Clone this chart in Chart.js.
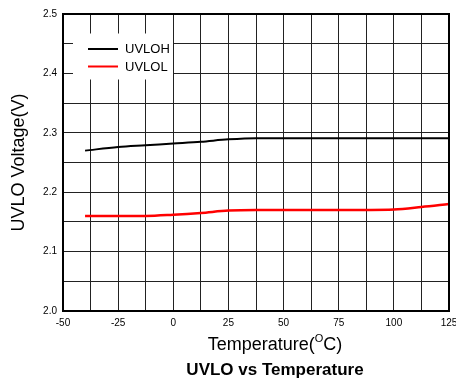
<!DOCTYPE html>
<html>
<head>
<meta charset="utf-8">
<script src="https://cdn.jsdelivr.net/npm/chart.js@4/dist/chart.umd.min.js"></script>
<style>
  html, body { margin: 0; padding: 0; background: #fff; }
  #wrap { width: 456px; height: 383px; }
</style>
</head>
<body>
<div id="wrap"><canvas id="c"></canvas></div>
<script>
// Measured UVLO thresholds versus junction temperature
const temperatures = [-40, -25, -12.5, 0, 12.5, 25, 37.5, 50, 75, 100, 112.5, 125];
const uvlohVolts   = [2.270, 2.276, 2.279, 2.282, 2.285, 2.289, 2.291, 2.291, 2.291, 2.291, 2.291, 2.291];
const uvlolVolts   = [2.160, 2.160, 2.160, 2.162, 2.165, 2.169, 2.170, 2.170, 2.170, 2.171, 2.175, 2.180];
const seriesNames  = ['UVLOH', 'UVLOL'];
const seriesColors = ['#000000', '#ff0000'];

// Labelled ticks (grid lines are drawn at half these steps)
const xTickLabels = [-50, -25, 0, 25, 50, 75, 100, 125];
const yTickLabels = [2.0, 2.1, 2.2, 2.3, 2.4, 2.5];

const chartTitle = 'UVLO vs Temperature';
const FONT = '"Liberation Sans", Arial, sans-serif';

function toPoints(xs, ys) {
  return xs.map((x, i) => ({ x: x, y: ys[i] }));
}

// Frame, in-plot legend, x-axis title (with a raised "O") and the caption
const decorations = {
  id: 'decorations',
  afterDraw(chart) {
    const ctx = chart.ctx;
    const a = chart.chartArea;
    ctx.save();

    // plot frame
    ctx.strokeStyle = '#000';
    ctx.lineWidth = 2;
    ctx.strokeRect(a.left, a.top, a.right - a.left, a.bottom - a.top);

    // legend box
    const bx = a.left + 10, by = a.top + 19.5;
    ctx.fillStyle = '#fff';
    ctx.fillRect(bx, by, 100, 46);
    ctx.font = '13px ' + FONT;
    ctx.textBaseline = 'middle';
    ctx.textAlign = 'left';
    chart.data.datasets.forEach((ds, i) => {
      const y = by + 15.5 + i * 17.5;
      ctx.strokeStyle = ds.borderColor;
      ctx.lineWidth = 2;
      ctx.beginPath();
      ctx.moveTo(bx + 15, y);
      ctx.lineTo(bx + 45, y);
      ctx.stroke();
      ctx.fillStyle = '#000';
      ctx.fillText(ds.label, bx + 52, y + 0.5);
    });

    const cx = 275;

    // x-axis title: Temperature(°C)
    const main = '18px ' + FONT;
    const sup = '11px ' + FONT;
    const p1 = 'Temperature(', p2 = 'O', p3 = 'C)';
    ctx.font = main;
    const w1 = ctx.measureText(p1).width;
    const w3 = ctx.measureText(p3).width;
    ctx.font = sup;
    const w2 = ctx.measureText(p2).width;
    let x = cx - (w1 + w2 + w3) / 2;
    const base = 349.5;
    ctx.fillStyle = '#000';
    ctx.textBaseline = 'alphabetic';
    ctx.font = main;
    ctx.fillText(p1, x, base);
    x += w1;
    ctx.font = sup;
    ctx.fillText(p2, x, base - 7.5);
    x += w2;
    ctx.font = main;
    ctx.fillText(p3, x, base);

    // caption
    ctx.font = 'bold 17px ' + FONT;
    ctx.textAlign = 'center';
    ctx.fillText(chartTitle, cx, 374.5);

    ctx.restore();
  }
};

new Chart(document.getElementById('c'), {
  type: 'line',
  data: {
    datasets: [
      {
        label: seriesNames[0],
        data: toPoints(temperatures, uvlohVolts),
        borderColor: seriesColors[0],
        borderWidth: 2,
        pointRadius: 0,
        cubicInterpolationMode: 'monotone',
        fill: false
      },
      {
        label: seriesNames[1],
        data: toPoints(temperatures, uvlolVolts),
        borderColor: seriesColors[1],
        borderWidth: 2.5,
        pointRadius: 0,
        cubicInterpolationMode: 'monotone',
        fill: false
      }
    ]
  },
  options: {
    responsive: true,
    maintainAspectRatio: false,
    animation: false,
    devicePixelRatio: 1,
    layout: { padding: { left: 0, right: 7, top: 14, bottom: 0 } },
    plugins: {
      legend: { display: false },
      tooltip: { enabled: false },
      title: { display: false }
    },
    scales: {
      x: {
        type: 'linear',
        min: -50,
        max: 125,
        afterFit(scale) {
          scale.height = 72;
          scale.paddingLeft = 0;
          scale.paddingRight = 0;
        },
        ticks: {
          stepSize: 12.5,
          autoSkip: false,
          maxRotation: 0,
          padding: 6,
          color: '#000',
          font: { family: FONT, size: 10 },
          callback: (v) => (xTickLabels.includes(v) ? String(v) : '')
        },
        grid: { color: '#222', lineWidth: 1, drawTicks: false },
        border: { display: false }
      },
      y: {
        type: 'linear',
        min: 2.0,
        max: 2.5,
        afterFit(scale) {
          scale.width = 63;
          scale.paddingTop = 0;
          scale.paddingBottom = 0;
        },
        ticks: {
          stepSize: 0.05,
          autoSkip: false,
          padding: 6,
          color: '#000',
          font: { family: FONT, size: 10 },
          callback: (v) => {
            const t = yTickLabels.find((k) => Math.abs(k - v) < 1e-6);
            return t === undefined ? '' : t.toFixed(1);
          }
        },
        grid: { color: '#222', lineWidth: 1, drawTicks: false },
        border: { display: false },
        title: {
          display: true,
          text: 'UVLO Voltage(V)',
          color: '#000',
          font: { family: FONT, size: 18 },
          padding: { top: 8, bottom: 0 }
        }
      }
    }
  },
  plugins: [decorations]
});
</script>
</body>
</html>
